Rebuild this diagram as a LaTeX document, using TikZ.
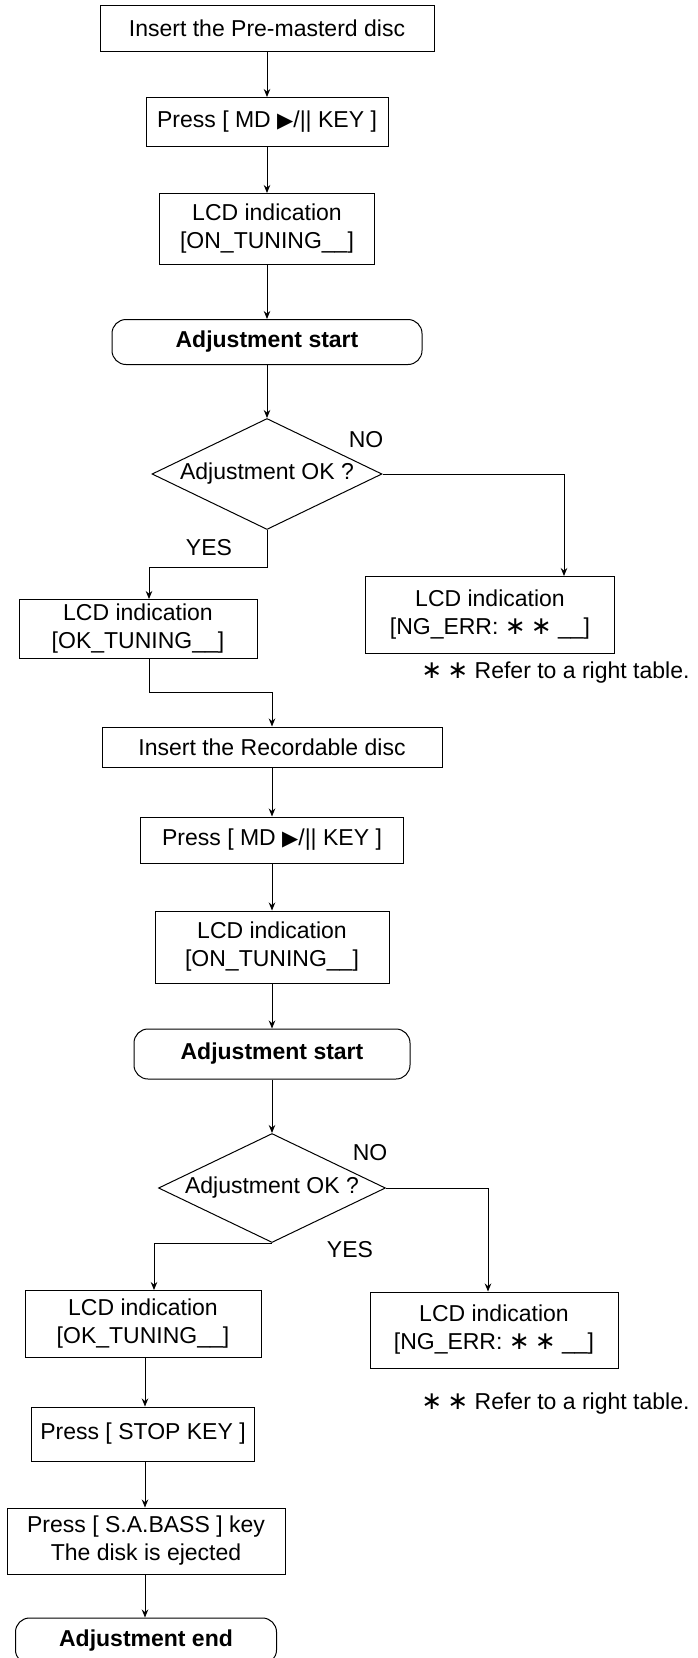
\documentclass[tikz,border=0pt]{standalone}
\usepackage{fontspec}
\setmainfont{Liberation Sans}
\newfontfamily\symfont{DejaVu Sans}
\usetikzlibrary{shapes.geometric,arrows.meta,calc}

\newcommand{\playkey}{{\symfont\fontsize{21}{21}\selectfont ▶}}
\newcommand{\stars}{{\symfont\fontsize{25}{25}\selectfont ∗\hspace{5pt}∗}}

\begin{document}
\begin{tikzpicture}[x=1pt,y=-1pt,
  every node/.style={font=\fontsize{23}{28}\selectfont},
  box/.style={draw, line width=1pt, inner sep=0pt, align=center},
  term/.style={box, rounded corners=14pt, font=\fontsize{23}{28}\selectfont\bfseries},
  decide/.style={box, diamond, aspect=2},
  arr/.style={line width=1pt, -{Stealth[length=8pt,width=6.5pt]}}]
  \useasboundingbox (0,0) rectangle (698,1658);

  % first pass: pre-masterd disc
  \node[box, minimum width=334pt, minimum height=46pt] (ins1) at (267,28) {Insert the Pre-masterd disc};
  \node[box, minimum width=242pt, minimum height=49pt] (key1) at (267,122) {Press [ MD \playkey/|| KEY ]};
  \node[box, minimum width=215pt, minimum height=71pt] (lcd1) at (267,229) {LCD indication\\{[}ON\_TUNING\_\_]};
  \node[term, minimum width=310pt, minimum height=45pt] (st1) at (267,342) {Adjustment start};
  \node[decide, minimum width=230pt, minimum height=111pt] (ask1) at (267,474) {Adjustment OK ?};
  \node (no1) at (366,440) {NO};
  \node (yes1) at (209,548) {YES};
  \node[box, minimum width=238pt, minimum height=59pt] (tun1) at (138,629) {LCD indication\\{[}OK\_TUNING\_\_]};
  \node[box, minimum width=249pt, minimum height=77pt] (err1) at (490,615) {LCD indication\\{[}NG\_ERR: \stars\ \_\_]};
  \node[anchor=east] (ref1) at (693,673) {\stars\ Refer to a right table.};

  \coordinate (y1) at (149,567);
  \coordinate (n1) at (564,474);
  \coordinate (j1) at (149,692);

  \draw[arr] (ins1) -- (key1);
  \draw[arr] (key1) -- (lcd1);
  \draw[arr] (lcd1) -- (st1);
  \draw[arr] (st1) -- (ask1);
  \draw[arr] (ask1.south) |- (y1) -- (y1 |- tun1.north);
  \draw[arr] (ask1.east) -| (n1 |- err1.north);

  % second pass: recordable disc
  \node[box, minimum width=340pt, minimum height=40pt] (ins2) at (272,747) {Insert the Recordable disc};
  \node[box, minimum width=263pt, minimum height=46pt] (key2) at (272,840) {Press [ MD \playkey/|| KEY ]};
  \node[box, minimum width=234pt, minimum height=72pt] (lcd2) at (272,947) {LCD indication\\{[}ON\_TUNING\_\_]};
  \node[term, minimum width=276pt, minimum height=50pt] (st2) at (272,1054) {Adjustment start};
  \node[decide, minimum width=227pt, minimum height=109pt] (ask2) at (272,1188) {Adjustment OK ?};
  \node (no2) at (370,1153) {NO};
  \node (yes2) at (350,1250) {YES};
  \node[box, minimum width=236pt, minimum height=67pt] (tun2) at (143,1324) {LCD indication\\{[}OK\_TUNING\_\_]};
  \node[box, minimum width=248pt, minimum height=76pt] (err2) at (494,1330) {LCD indication\\{[}NG\_ERR: \stars\ \_\_]};
  \node[anchor=east] (ref2) at (693,1404) {\stars\ Refer to a right table.};
  \node[box, minimum width=223pt, minimum height=54pt] (stop) at (143,1434) {Press [ STOP KEY ]};
  \node[box, minimum width=278pt, minimum height=66pt] (eject) at (146,1541) {Press [ S.A.BASS ] key\\The disk is ejected};
  \node[term, minimum width=261pt, minimum height=46pt] (fin) at (146,1641) {Adjustment end};

  \coordinate (y2) at (154,0);
  \coordinate (n2) at (488,0);
  \coordinate (c2) at (145,0);

  \draw[arr] (j1 |- tun1.south) -- (j1) -| (ins2.north);
  \draw[arr] (ins2) -- (key2);
  \draw[arr] (key2) -- (lcd2);
  \draw[arr] (lcd2) -- (st2);
  \draw[arr] (st2) -- (ask2);
  \draw[arr] (ask2.south) -| (y2 |- tun2.north);
  \draw[arr] (ask2.east) -| (n2 |- err2.north);
  \draw[arr] (c2 |- tun2.south) -- (c2 |- stop.north);
  \draw[arr] (c2 |- stop.south) -- (c2 |- eject.north);
  \draw[arr] (c2 |- eject.south) -- (c2 |- fin.north);
\end{tikzpicture}
\end{document}
